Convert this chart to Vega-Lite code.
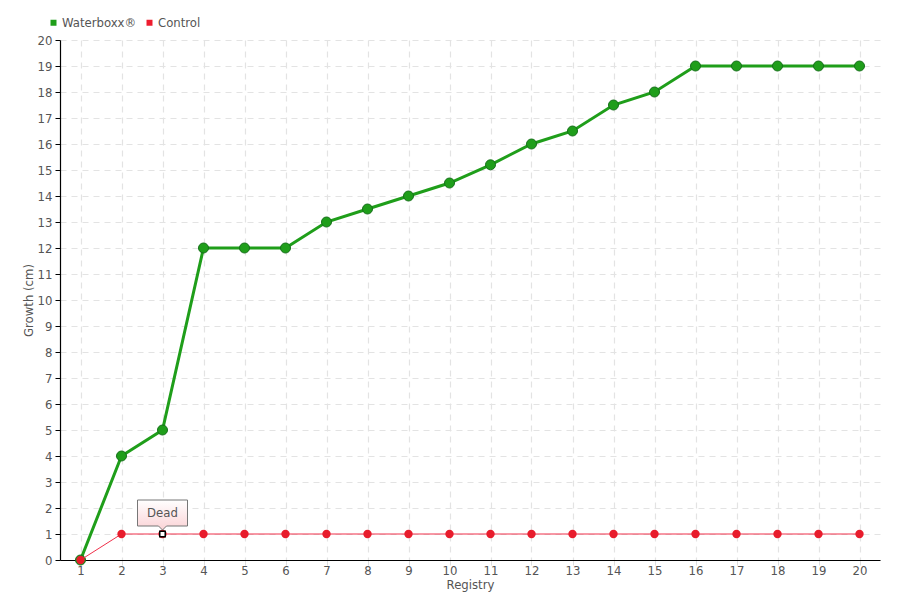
{
  "$schema": "https://vega.github.io/schema/vega-lite/v6.json",
  "width": 820,
  "height": 520,
  "autosize": {"type": "none"},
  "padding": {"left": 60, "top": 40, "right": 20, "bottom": 40},
  "background": "white",
  "config": {
    "font": "DejaVu Sans Condensed, DejaVu Sans, sans-serif",
    "view": {"stroke": null},
    "axis": {
      "labelColor": "#555555",
      "titleColor": "#555555",
      "labelFontSize": 13,
      "titleFontSize": 13,
      "titleFontWeight": "normal",
      "domainColor": "#000000",
      "domainWidth": 1.2,
      "gridColor": "#e3e3e3",
      "gridDash": [6, 5],
      "gridWidth": 1.2
    }
  },
  "data": {
    "values": [
      {"registry": 1, "series": "Waterboxx®", "growth": 0},
      {"registry": 2, "series": "Waterboxx®", "growth": 4},
      {"registry": 3, "series": "Waterboxx®", "growth": 5},
      {"registry": 4, "series": "Waterboxx®", "growth": 12},
      {"registry": 5, "series": "Waterboxx®", "growth": 12},
      {"registry": 6, "series": "Waterboxx®", "growth": 12},
      {"registry": 7, "series": "Waterboxx®", "growth": 13},
      {"registry": 8, "series": "Waterboxx®", "growth": 13.5},
      {"registry": 9, "series": "Waterboxx®", "growth": 14},
      {"registry": 10, "series": "Waterboxx®", "growth": 14.5},
      {"registry": 11, "series": "Waterboxx®", "growth": 15.2},
      {"registry": 12, "series": "Waterboxx®", "growth": 16},
      {"registry": 13, "series": "Waterboxx®", "growth": 16.5},
      {"registry": 14, "series": "Waterboxx®", "growth": 17.5},
      {"registry": 15, "series": "Waterboxx®", "growth": 18},
      {"registry": 16, "series": "Waterboxx®", "growth": 19},
      {"registry": 17, "series": "Waterboxx®", "growth": 19},
      {"registry": 18, "series": "Waterboxx®", "growth": 19},
      {"registry": 19, "series": "Waterboxx®", "growth": 19},
      {"registry": 20, "series": "Waterboxx®", "growth": 19},
      {"registry": 1, "series": "Control", "growth": 0},
      {"registry": 2, "series": "Control", "growth": 1},
      {"registry": 3, "series": "Control", "growth": 1, "note": "Dead"},
      {"registry": 4, "series": "Control", "growth": 1},
      {"registry": 5, "series": "Control", "growth": 1},
      {"registry": 6, "series": "Control", "growth": 1},
      {"registry": 7, "series": "Control", "growth": 1},
      {"registry": 8, "series": "Control", "growth": 1},
      {"registry": 9, "series": "Control", "growth": 1},
      {"registry": 10, "series": "Control", "growth": 1},
      {"registry": 11, "series": "Control", "growth": 1},
      {"registry": 12, "series": "Control", "growth": 1},
      {"registry": 13, "series": "Control", "growth": 1},
      {"registry": 14, "series": "Control", "growth": 1},
      {"registry": 15, "series": "Control", "growth": 1},
      {"registry": 16, "series": "Control", "growth": 1},
      {"registry": 17, "series": "Control", "growth": 1},
      {"registry": 18, "series": "Control", "growth": 1},
      {"registry": 19, "series": "Control", "growth": 1},
      {"registry": 20, "series": "Control", "growth": 1}
    ]
  },
  "encoding": {
    "x": {
      "field": "registry", "type": "quantitative",
      "scale": {"domain": [0.5, 20.5], "nice": false, "zero": false},
      "axis": {
        "title": "Registry", "values": [1,2,3,4,5,6,7,8,9,10,11,12,13,14,15,16,17,18,19,20],
        "format": "d", "tickColor": "#dddddd", "tickSize": 5, "labelPadding": -1,
        "titlePadding": 1, "grid": true
      }
    },
    "y": {
      "field": "growth", "type": "quantitative",
      "scale": {"domain": [0, 20], "nice": false},
      "axis": {
        "title": "Growth (cm)", "values": [0,1,2,3,4,5,6,7,8,9,10,11,12,13,14,15,16,17,18,19,20],
        "tickColor": "#000000", "tickSize": 5, "labelPadding": 3, "titleX": -25, "titleBaseline": "bottom", "grid": true
      }
    }
  },
  "layer": [
    {
      "transform": [{"filter": "datum.series === 'Waterboxx®'"}],
      "mark": {"type": "line", "color": "#1f9e1a", "strokeWidth": 3},
      "encoding": {}
    },
    {
      "transform": [{"filter": "datum.series === 'Waterboxx®'"}],
      "mark": {"type": "point", "filled": true, "size": 100, "stroke": "#16701a", "strokeWidth": 1, "opacity": 1},
      "encoding": {
        "color": {
          "field": "series", "type": "nominal",
          "scale": {"domain": ["Waterboxx®", "Control"], "range": ["#1f9e1a", "#ee1c2e"]},
          "legend": {
            "title": null, "orient": "none", "direction": "horizontal",
            "legendX": -13, "legendY": -24, "symbolType": "square", "symbolSize": 36,
            "labelFontSize": 13, "labelColor": "#555555", "symbolStrokeWidth": 0,
            "columnPadding": 6, "labelOffset": 2
          }
        }
      }
    },
    {
      "transform": [{"filter": "datum.series === 'Control'"}],
      "mark": {"type": "line", "color": "#f0304a", "strokeWidth": 1},
      "encoding": {}
    },
    {
      "transform": [{"filter": "datum.series === 'Control'"}],
      "mark": {"type": "point", "filled": true, "size": 70, "color": "#e81c2c", "opacity": 1},
      "encoding": {}
    },
    {
      "transform": [{"filter": "datum.note === 'Dead'"}],
      "mark": {"type": "point", "shape": "square", "filled": true, "size": 30, "fill": "white", "stroke": "black", "strokeWidth": 1.5, "opacity": 1},
      "encoding": {}
    },
    {
      "transform": [{"filter": "datum.note === 'Dead'"}],
      "mark": {
        "type": "point",
        "shape": "M-1,-0.52L1,-0.52L1,0.52L0.16,0.52L0,0.68L-0.16,0.52L-1,0.52Z",
        "size": 2500, "filled": true, "opacity": 1,
        "fill": {"gradient": "linear", "x1": 0, "y1": 0, "x2": 0, "y2": 1,
          "stops": [{"offset": 0, "color": "#ffffff"}, {"offset": 1, "color": "#fbd3d6"}]},
        "stroke": "#777777", "strokeWidth": 1, "yOffset": -21
      },
      "encoding": {}
    },
    {
      "transform": [{"filter": "datum.note === 'Dead'"}],
      "mark": {"type": "text", "fontSize": 13, "color": "#555555", "yOffset": -21, "baseline": "middle", "align": "center"},
      "encoding": {"text": {"field": "note"}}
    }
  ]
}
